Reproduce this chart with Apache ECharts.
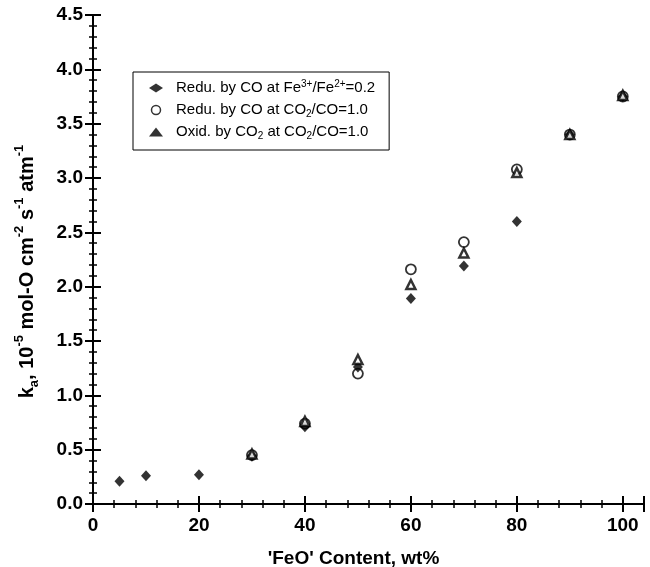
<!DOCTYPE html>
<html>
<head>
<meta charset="utf-8">
<script src="https://cdn.jsdelivr.net/npm/echarts@6/dist/echarts.min.js"></script>
<style>html,body{margin:0;padding:0;background:#fff}#c{width:650px;height:567px}</style>
</head>
<body>
<div id="c"></div>
<script>
var xTicks = [0, 20, 40, 60, 80, 100];
var yTicks = [0.0, 0.5, 1.0, 1.5, 2.0, 2.5, 3.0, 3.5, 4.0, 4.5];
var seriesNames = [
  'Redu. by CO at Fe{sup|3+}/Fe{sup|2+}=0.2',
  'Redu. by CO at CO{sub|2}/CO=1.0',
  'Oxid. by CO{sub|2} at CO{sub|2}/CO=1.0'
];
var xDiamond = [5, 10, 20, 30, 40, 50, 60, 70, 80, 90, 100];
var yDiamond = [0.21, 0.26, 0.27, 0.44, 0.71, 1.26, 1.89, 2.19, 2.60, 3.40, 3.75];
var xCircle = [30, 40, 50, 60, 70, 80, 90, 100];
var yCircle = [0.45, 0.74, 1.20, 2.16, 2.41, 3.08, 3.40, 3.75];
var xTri = [30, 40, 50, 60, 70, 80, 90, 100];
var yTri = [0.46, 0.76, 1.33, 2.02, 2.31, 3.05, 3.40, 3.76];

function pairs(xs, ys) { return xs.map(function (x, i) { return [x, ys[i]]; }); }

var font = 'Liberation Sans';
var chart = echarts.init(document.getElementById('c'), null, {renderer: 'canvas'});
var axisCommon = {
  axisLine: {lineStyle: {color: '#000', width: 2}},
  axisTick: {inside: true, length: 8, lineStyle: {color: '#000', width: 2}},
  minorTick: {show: true, splitNumber: 5, length: 4, lineStyle: {color: '#000', width: 1.5}},
  splitLine: {show: false}
};
var option = {
  animation: false,
  backgroundColor: '#fff',
  grid: {left: 93, right: 6, top: 15, bottom: 63, containLabel: false, outerBoundsMode: 'none'},
  legend: {
    orient: 'vertical', left: 133, top: 72,
    borderColor: '#000', borderWidth: 1,
    padding: [7, 14, 9, 16], itemGap: 4,
    itemWidth: 14, itemHeight: 9,
    data: [
      {name: seriesNames[0], icon: 'diamond', itemStyle: {color: '#000', borderWidth: 0}},
      {name: seriesNames[1], icon: 'circle', itemStyle: {color: '#fff', borderColor: '#000', borderWidth: 1.5}},
      {name: seriesNames[2], icon: 'triangle', itemStyle: {color: '#000', borderWidth: 0}}
    ],
    textStyle: {
      fontFamily: font, fontSize: 15, color: '#000', lineHeight: 18, padding: [0, 0, 0, 8],
      rich: {
        sup: {fontSize: 10, verticalAlign: 'top', lineHeight: 18, fontFamily: font, color: '#000'},
        sub: {fontSize: 10, verticalAlign: 'bottom', lineHeight: 18, fontFamily: font, color: '#000'}
      }
    }
  },
  xAxis: [Object.assign({
    type: 'value', min: 0, max: 104, interval: 20,
    name: "'FeO' Content, wt%", nameLocation: 'middle', nameGap: 45,
    nameTextStyle: {fontFamily: font, fontWeight: 'bold', fontSize: 19, color: '#000', padding: [0, 30, 0, 0]},
    axisLabel: {fontFamily: font, fontWeight: 'bold', fontSize: 19, color: '#000', margin: 12,
      customValues: xTicks}
  }, axisCommon), Object.assign({
    type: 'value', min: 0, max: 104, interval: 20, position: 'top',
    axisLabel: {show: false}
  }, axisCommon)],
  yAxis: [Object.assign({
    type: 'value', min: 0, max: 4.5, interval: 0.5,
    name: '{b|k}{bsub|a}{b|, 10}{bsup|-5}{b| mol-O cm}{bsup|-2}{b| s}{bsup|-1}{b| atm}{bsup|-1}',
    nameLocation: 'middle', nameGap: 52,
    nameTextStyle: {
      fontFamily: font, fontWeight: 'bold', fontSize: 19, color: '#000', padding: [0, 24, 0, 0],
      rich: {
        b: {fontFamily: font, fontWeight: 'bold', fontSize: 20, color: '#000', lineHeight: 28},
        bsup: {fontFamily: font, fontWeight: 'bold', fontSize: 13, color: '#000', verticalAlign: 'top', lineHeight: 28},
        bsub: {fontFamily: font, fontWeight: 'bold', fontSize: 13, color: '#000', verticalAlign: 'bottom', lineHeight: 28}
      }
    },
    axisLabel: {fontFamily: font, fontWeight: 'bold', fontSize: 19, color: '#000', margin: 10,
      formatter: function (v) { return v.toFixed(1); }}
  }, axisCommon), Object.assign({
    type: 'value', min: 0, max: 4.5, interval: 0.5, position: 'right',
    axisLabel: {show: false}
  }, axisCommon)],
  series: [
    {name: seriesNames[0], type: 'scatter', symbol: 'diamond', symbolSize: [10, 11],
      itemStyle: {color: '#000'}, data: pairs(xDiamond, yDiamond), z: 3},
    {name: seriesNames[1], type: 'scatter', symbol: 'circle', symbolSize: 10,
      itemStyle: {color: '#fff', borderColor: '#000', borderWidth: 1.8}, data: pairs(xCircle, yCircle), z: 2},
    {name: seriesNames[2], type: 'scatter', symbol: 'triangle', symbolSize: 9,
      itemStyle: {color: '#fff', borderColor: '#000', borderWidth: 2.5}, data: pairs(xTri, yTri), z: 4}
  ]
};
chart.setOption(option);
</script>
</body>
</html>
